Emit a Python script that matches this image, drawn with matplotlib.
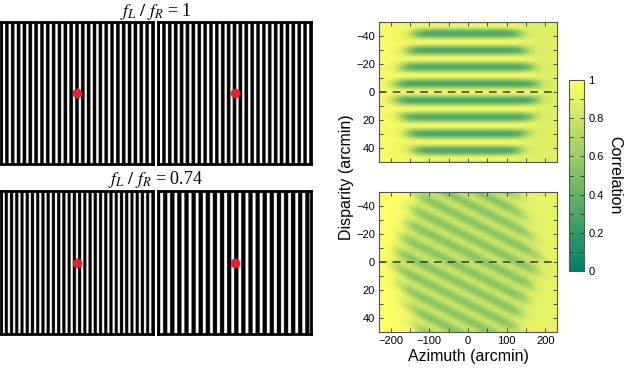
import matplotlib
matplotlib.use('Agg')
import matplotlib.pyplot as plt
import numpy as np

plt.rcParams['font.family'] = ['Liberation Sans', 'DejaVu Sans']
plt.rcParams['mathtext.fontset'] = 'stix'

# left panels: grating cycles per panel (left eye, right eye) for each row
ratio_labels = ['1', '0.74']
cycles_left = [26, 29]
cycles_right = [26, 21.5]

# right panels: correlation maps
disp_period = 12.0          # arcmin, disparity period of the stripes
tilt = [0.0, 0.14]          # change of stripe disparity with azimuth
stripe_min = [0.30, 0.54]   # correlation at stripe centre
gap_val = [0.95, 0.78]      # correlation between stripes
edge_val = [0.90, 0.93]     # correlation outside the stripe region
az_lim = 230
disp_lim = 50
x_ticks = [-200, -100, 0, 100, 200]
y_ticks = [-40, -20, 0, 20, 40]
cb_ticks = [0, 0.2, 0.4, 0.6, 0.8, 1]

W, H = 624, 369
fig = plt.figure(figsize=(W / 100, H / 100), dpi=100)


def fpos(x0, y0, x1, y1):
    return [x0 / W, 1 - y1 / H, (x1 - x0) / W, (y1 - y0) / H]


def grating(ax, n):
    xs = np.linspace(0, 1, 1200)
    prof = (np.cos(2 * np.pi * n * xs) > -0.3).astype(float)
    ax.imshow(1 - prof[None, :], cmap='gray', vmin=0, vmax=1, aspect='auto',
              extent=[0, 1, 0, 1], interpolation='antialiased')
    ax.plot(0.5, 0.5, 'o', color='#e8202a', ms=7, mec='none')
    ax.set_xlim(0, 1)
    ax.set_ylim(0, 1)
    ax.set_xticks([])
    ax.set_yticks([])
    for s in ax.spines.values():
        s.set_linewidth(2.0)
        s.set_color('black')


rows_y = [(22, 164), (191, 334)]
for i, (y0, y1) in enumerate(rows_y):
    axl = fig.add_axes(fpos(1, y0, 153, y1))
    grating(axl, cycles_left[i])
    axr = fig.add_axes(fpos(158, y0, 311, y1))
    grating(axr, cycles_right[i])
    fig.text(156 / W, 1 - (y0 - 11) / H, r'$f_L\ /\ f_R$' + ' = ' + ratio_labels[i],
             ha='center', va='center', fontsize=13, family='Liberation Serif')

az = np.linspace(-az_lim, az_lim, 461)
disp = np.linspace(-disp_lim, disp_lim, 201)
X, D = np.meshgrid(az, disp)

maps_y = [(22, 162), (192, 332)]
im = None
for i, (y0, y1) in enumerate(maps_y):
    ax = fig.add_axes(fpos(379, y0, 557, y1))
    half = 192 - 1.3 * np.abs(D)
    env = 1 / (1 + np.exp((np.abs(X + 3) - half) / 11))
    s = (1 - np.cos(2 * np.pi * (D - tilt[i] * X) / disp_period)) / 2
    inner = gap_val[i] - (gap_val[i] - stripe_min[i]) * s
    outside = edge_val[i] + 0.07 * np.clip(-X / az_lim, 0, 1) - 0.03 * np.clip(X / az_lim, 0, 1)
    C = outside * (1 - env) + inner * env
    im = ax.imshow(C, cmap='summer', vmin=0, vmax=1, aspect='auto',
                   extent=[-az_lim, az_lim, disp_lim, -disp_lim], interpolation='bilinear')
    ax.axhline(0, color='#3c3c30', lw=1.1, ls=(0, (5, 4)))
    ax.set_xlim(-az_lim, az_lim)
    ax.set_ylim(disp_lim, -disp_lim)
    ax.set_xticks(x_ticks)
    ax.set_xticks(np.arange(-200, 201, 50), minor=True)
    ax.set_yticks(y_ticks)
    ax.set_yticks(np.arange(-40, 41, 10), minor=True)
    ax.tick_params(which='both', direction='in', top=True, right=True, length=3,
                   width=0.6, color='#333333', labelsize=8, pad=3)
    if i == 0:
        ax.set_xticklabels([])
    else:
        ax.set_xlabel('Azimuth (arcmin)', fontsize=11.5, labelpad=2)
    for sp in ax.spines.values():
        sp.set_linewidth(0.8)
        sp.set_color('#555555')

fig.text(347 / W, 1 - 177 / H, 'Disparity (arcmin)', rotation=90, ha='center',
         va='center', fontsize=11.5)

cax = fig.add_axes(fpos(569, 80, 584, 271))
cb = fig.colorbar(im, cax=cax, ticks=cb_ticks)
cb.ax.set_yticklabels(['0', '0.2', '0.4', '0.6', '0.8', '1'])
cb.ax.set_yticks(np.arange(0, 1.01, 0.1), minor=True)
cb.ax.tick_params(which='both', direction='in', left=True, right=True, length=3,
                  width=0.6, color='#333333', labelsize=8, pad=3)
cb.outline.set_linewidth(0.8)
cb.outline.set_edgecolor('#555555')
fig.text(615 / W, 1 - 175 / H, 'Correlation', rotation=270, ha='center',
         va='center', fontsize=11.5)

fig.savefig('out.png', dpi=100)
